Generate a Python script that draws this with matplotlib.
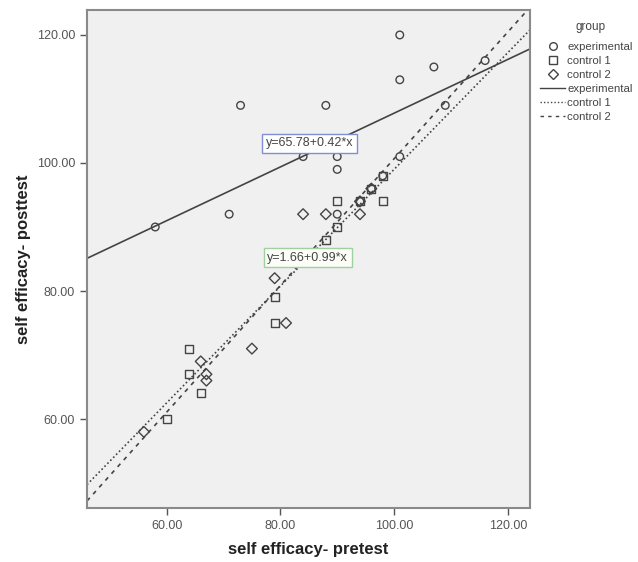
import matplotlib
matplotlib.use("Agg")
import matplotlib.pyplot as plt
from matplotlib.lines import Line2D
import numpy as np

plt.rcParams['font.family'] = ['Liberation Sans', 'DejaVu Sans']

# ---- data ----
exp_pre = [101, 107, 101, 116, 73, 88, 109, 84, 90, 90, 101, 71, 58, 98, 96, 94, 90]
exp_post = [120, 115, 113, 116, 109, 109, 109, 101, 101, 99, 101, 92, 90, 98, 96, 94, 92]

c1_pre = [88, 90, 90, 98, 79, 79, 64, 64, 66, 60, 94, 96, 98]
c1_post = [88, 90, 94, 94, 79, 75, 71, 67, 64, 60, 94, 96, 98]

c2_pre = [84, 88, 94, 79, 81, 75, 66, 67, 67, 56, 94, 96]
c2_post = [92, 92, 92, 82, 75, 71, 69, 67, 66, 58, 94, 96]

groups = ["experimental", "control 1", "control 2"]
fit_intercepts = [65.78, 7.8, 1.66]
fit_slopes = [0.42, 0.912, 0.99]
fit_labels = ["y=65.78+0.42*x", None, "y=1.66+0.99*x"]

x_ticks = [60, 80, 100, 120]
y_ticks = [60, 80, 100, 120]
x_label = "self efficacy- pretest"
y_label = "self efficacy- posttest"

# ---- figure ----
fig = plt.figure(figsize=(6.38, 5.62), dpi=100)
ax = fig.add_axes([87/638, 1-508/562, (530-87)/638, (508-10)/562])
ax.set_facecolor('#f0f0f0')

xlim = (46.0, 123.9)
ylim = (46.1, 123.9)
ax.set_xlim(*xlim)
ax.set_ylim(*ylim)

mcol = '#444444'
ax.scatter(exp_pre, exp_post, marker='o', s=30, facecolors='none', edgecolors=mcol, linewidths=1.0, zorder=3)
ax.scatter(c1_pre, c1_post, marker='s', s=34, facecolors='none', edgecolors=mcol, linewidths=1.0, zorder=3)
ax.scatter(c2_pre, c2_post, marker='D', s=30, facecolors='none', edgecolors=mcol, linewidths=1.0, zorder=3)

styles = ['-', (0, (1, 1.5)), (0, (2.5, 3))]
xs = np.array(xlim)
for b0, b1, ls in zip(fit_intercepts, fit_slopes, styles):
    ax.plot(xs, b0 + b1 * xs, color='#444444', linestyle=ls, linewidth=1.2, zorder=2)

# fit-label boxes
ax.text(85.1, 103.1, fit_labels[0], ha='center', va='center', fontsize=9, color='#444444',
        bbox=dict(boxstyle='square,pad=0.28', facecolor='white', edgecolor='#7f8fd0', linewidth=1.0), zorder=4)
ax.text(84.8, 85.2, fit_labels[2], ha='center', va='center', fontsize=9, color='#444444',
        bbox=dict(boxstyle='square,pad=0.28', facecolor='#fbfdf6', edgecolor='#9fd09f', linewidth=1.0), zorder=4)

ax.set_xticks(x_ticks)
ax.set_yticks(y_ticks)
ax.set_xticklabels([f"{v:.2f}" for v in x_ticks])
ax.set_yticklabels([f"{v:.2f}" for v in y_ticks])
ax.tick_params(direction='out', length=5, width=1.0, color='#555555', labelsize=9, labelcolor='#555555')
for sp in ax.spines.values():
    sp.set_color('#8a8a8a')
    sp.set_linewidth(1.5)

ax.set_xlabel(x_label, fontsize=12, fontweight='bold', color='#222222', labelpad=7)
ax.set_ylabel(y_label, fontsize=12, fontweight='bold', color='#222222', labelpad=4)

# legend
handles = [
    Line2D([], [], marker='o', linestyle='none', markerfacecolor='none', markeredgecolor=mcol, markersize=5.5),
    Line2D([], [], marker='s', linestyle='none', markerfacecolor='none', markeredgecolor=mcol, markersize=5.5),
    Line2D([], [], marker='D', linestyle='none', markerfacecolor='none', markeredgecolor=mcol, markersize=5.5),
]
for ls in styles:
    handles.append(Line2D([], [], color='#444444', linestyle=ls, linewidth=1.0))
labels = groups + groups
fig.text(591/638, 1-27/562, "group", ha='center', va='center', fontsize=8.5, color='#444444')
fig.legend(handles, labels, loc='upper left', bbox_to_anchor=(540/638, 1-42/562),
           frameon=False, fontsize=8.2, labelcolor='#444444', handlelength=2.2,
           handletextpad=0.2, labelspacing=0.35, borderpad=0, borderaxespad=0)

fig.savefig('out.png', dpi=100)
